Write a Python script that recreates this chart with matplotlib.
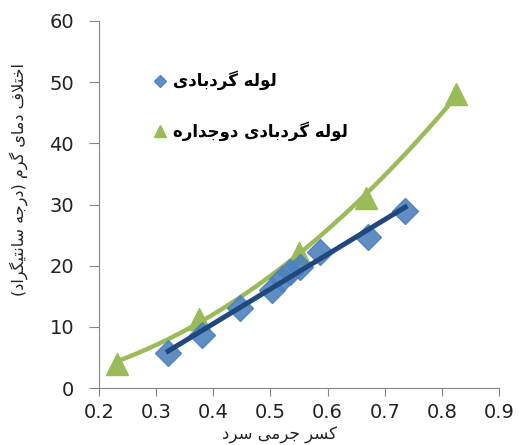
import matplotlib
matplotlib.use("Agg")
import matplotlib.pyplot as plt
import numpy as np

# Persian letter presentation forms: isolated, final, initial, medial
FORMS = {
    "\u0627": ("\uFE8D", "\uFE8E", None, None),
    "\u0628": ("\uFE8F", "\uFE90", "\uFE91", "\uFE92"),
    "\u062A": ("\uFE95", "\uFE96", "\uFE97", "\uFE98"),
    "\u062C": ("\uFE9D", "\uFE9E", "\uFE9F", "\uFEA0"),
    "\u062E": ("\uFEA5", "\uFEA6", "\uFEA7", "\uFEA8"),
    "\u062F": ("\uFEA9", "\uFEAA", None, None),
    "\u0631": ("\uFEAD", "\uFEAE", None, None),
    "\u0633": ("\uFEB1", "\uFEB2", "\uFEB3", "\uFEB4"),
    "\u0641": ("\uFED1", "\uFED2", "\uFED3", "\uFED4"),
    "\u0644": ("\uFEDD", "\uFEDE", "\uFEDF", "\uFEE0"),
    "\u0645": ("\uFEE1", "\uFEE2", "\uFEE3", "\uFEE4"),
    "\u0646": ("\uFEE5", "\uFEE6", "\uFEE7", "\uFEE8"),
    "\u0647": ("\uFEE9", "\uFEEA", "\uFEEB", "\uFEEC"),
    "\u0648": ("\uFEED", "\uFEEE", None, None),
    "\u06CC": ("\uFBFC", "\uFBFD", "\uFBFE", "\uFBFF"),
    "\u06A9": ("\uFB8E", "\uFB8F", "\uFB90", "\uFB91"),
    "\u06AF": ("\uFB92", "\uFB93", "\uFB94", "\uFB95"),
}
MIRROR = {"(": ")", ")": "("}


def shape_fa(text):
    """Very small Persian shaper: contextual forms, lam-alef, RTL order."""
    chars = list(text)
    out = []
    i = 0
    n = len(chars)
    while i < n:
        c = chars[i]
        if c not in FORMS:
            out.append(MIRROR.get(c, c))
            i += 1
            continue
        prev = chars[i - 1] if i > 0 else None
        joins_prev = prev in FORMS and FORMS[prev][2] is not None
        # lam + alef ligature
        if c == "\u0644" and i + 1 < n and chars[i + 1] == "\u0627":
            out.append("\uFEFC" if joins_prev else "\uFEFB")
            i += 2
            continue
        nxt = chars[i + 1] if i + 1 < n else None
        joins_next = FORMS[c][2] is not None and nxt in FORMS
        iso, fin, ini, med = FORMS[c]
        if joins_prev and joins_next:
            out.append(med)
        elif joins_prev:
            out.append(fin)
        elif joins_next:
            out.append(ini)
        else:
            out.append(iso)
        i += 1
    return "".join(reversed(out))


plt.rcParams["font.family"] = ["DejaVu Sans"]

# blue: single vortex tube
blue_x = [0.321, 0.38, 0.447, 0.502, 0.52, 0.534, 0.552, 0.587, 0.671, 0.736]
blue_y = [5.7, 8.6, 13.0, 16.0, 17.9, 19.0, 19.8, 22.3, 24.7, 29.0]
# green: double-walled vortex tube
green_x = [0.231, 0.375, 0.55, 0.668, 0.825]
green_y = [4.0, 11.3, 22.1, 31.0, 48.0]

label_blue = "لوله گردبادی"
label_green = "لوله گردبادی دوجداره"
xlabel = "کسر جرمی سرد"
ylabel = "اختلاف دمای گرم (درجه سانتیگراد)"

fig = plt.figure(figsize=(5.19, 4.45), dpi=100)
ax = fig.add_axes([99 / 519, 57 / 445, 400 / 519, 367 / 445])

gx = np.linspace(min(green_x), max(green_x), 200)
gfit = np.polyval(np.polyfit(green_x, green_y, 2), gx)
bx = np.linspace(min(blue_x), max(blue_x), 200)
bfit = np.polyval(np.polyfit(blue_x, blue_y, 1), bx)

ax.plot(gx, gfit, color="#9BBB59", linewidth=3.2, zorder=2)
ax.plot(green_x, green_y, "^", color="#9BBB59", markersize=16, linestyle="none",
        zorder=3, label=shape_fa(label_green))
ax.plot(blue_x, blue_y, "D", color="#4F81BD", markersize=13, linestyle="none",
        alpha=0.9, zorder=4, label=shape_fa(label_blue))
ax.plot(bx, bfit, color="#1F497D", linewidth=3.6, zorder=5)

ax.set_xlim(0.2, 0.9)
ax.set_ylim(0, 60)
ax.set_xticks(np.arange(0.2, 0.91, 0.1))
ax.set_xticklabels([f"{v:.1f}" for v in np.arange(0.2, 0.91, 0.1)])
ax.set_yticks(range(0, 61, 10))

for side in ("top", "right"):
    ax.spines[side].set_visible(False)
for side in ("left", "bottom"):
    ax.spines[side].set_color("#868686")
ax.tick_params(axis="both", colors="#868686", labelcolor="#222222",
               labelsize=14, direction="out")
ax.tick_params(axis="x", length=6, pad=5)
ax.tick_params(axis="y", length=7, pad=11)

ax.set_xlabel(shape_fa(xlabel), fontsize=12, color="#222222")
ax.xaxis.set_label_coords(0.45, -0.103)
ax.set_ylabel(shape_fa(ylabel), fontsize=11.5, color="#222222")
ax.yaxis.set_label_coords(-0.178, 0.567)

handles, labels = ax.get_legend_handles_labels()
ax.legend(handles[::-1], labels[::-1], loc="upper left",
          bbox_to_anchor=(0.093, 0.905), frameon=False,
          prop={"size": 12, "weight": "bold"},
          labelspacing=1.85, handletextpad=0.3, markerscale=0.5,
          handlelength=1.0)

fig.savefig("out.png", dpi=100)
